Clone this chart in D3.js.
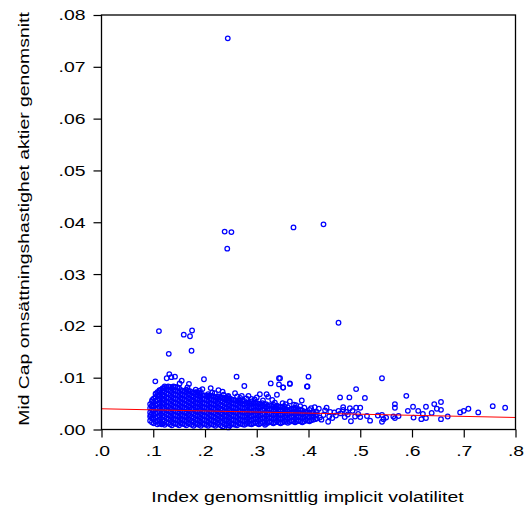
<!DOCTYPE html>
<html>
<head>
<meta charset="utf-8">
<script src="https://cdn.jsdelivr.net/npm/d3@7"></script>
<style>
  body { margin: 0; background: #fff; }
  .chart text { font-family: "Liberation Sans", Arial, sans-serif; fill: #000; }
</style>
</head>
<body>
<svg class="chart"></svg>
<script>
const width = 531, height = 515;
const margin = { top: 15, right: 15.5, bottom: 85.5, left: 101.5 };

const xTicks = [0, .1, .2, .3, .4, .5, .6, .7, .8];
const yTicks = [0, .01, .02, .03, .04, .05, .06, .07, .08];
const xLabel = "Index genomsnittlig implicit volatilitet";
const yLabel = "Mid Cap omsättningshastighet aktier genomsnitt";

// regression line (start / end)
const fitX = [0, .8];
const fitY = [.0040, .00232];

// dense cluster, read column by column: [x, [y...]]
const cluster = [
  [.094, [.0017, .0025, .0033, .0041, .0049]],
  [.0975, [.0014, .0022, .0030, .0038, .0046, .0054]],
  [.101, [.0012, .0020, .0028, .0036, .0044, .0052, .0060]],
  [.1045, [.0015, .0023, .0031, .0039, .0047, .0055, .0063, .0069]],
  [.108, [.0010, .0017, .0025, .0033, .0041, .0049, .0057, .0065, .0072]],
  [.1115, [.0012, .0019, .0027, .0035, .0043, .0051, .0059, .0067, .0074]],
  [.115, [.0013, .0021, .0029, .0037, .0045, .0053, .0061, .0069, .0077]],
  [.1185, [.0011, .0019, .0027, .0035, .0043, .0051, .0059, .0067, .0075, .0080]],
  [.122, [.0009, .0017, .0025, .0033, .0041, .0049, .0057, .0065, .0073, .0080]],
  [.1255, [.0013, .0021, .0029, .0037, .0045, .0053, .0061, .0069, .0077, .0082]],
  [.129, [.0012, .0020, .0028, .0036, .0044, .0052, .0060, .0068, .0076, .0083]],
  [.1325, [.0010, .0018, .0026, .0034, .0042, .0050, .0058, .0066, .0074, .0082]],
  [.136, [.0008, .0016, .0024, .0032, .0040, .0048, .0056, .0064, .0072, .0080]],
  [.1395, [.0012, .0020, .0028, .0036, .0044, .0052, .0060, .0068, .0076, .0082]],
  [.143, [.0011, .0019, .0027, .0035, .0043, .0051, .0059, .0067, .0075, .0082]],
  [.1465, [.0010, .0018, .0026, .0034, .0042, .0050, .0058, .0066, .0074, .0081]],
  [.150, [.0008, .0016, .0024, .0032, .0040, .0048, .0056, .0064, .0072, .0080]],
  [.1535, [.0012, .0020, .0028, .0036, .0044, .0052, .0060, .0068, .0076]],
  [.157, [.0011, .0019, .0027, .0035, .0043, .0051, .0059, .0067, .0075]],
  [.1605, [.0010, .0018, .0026, .0034, .0042, .0050, .0058, .0066, .0074]],
  [.164, [.0008, .0016, .0024, .0032, .0040, .0048, .0056, .0064, .0072, .0077]],
  [.1675, [.0012, .0020, .0028, .0036, .0044, .0052, .0060, .0068, .0075]],
  [.171, [.0011, .0019, .0027, .0035, .0043, .0051, .0059, .0067, .0074]],
  [.1745, [.0009, .0017, .0025, .0033, .0041, .0049, .0057, .0065, .0072]],
  [.178, [.0007, .0015, .0023, .0031, .0039, .0047, .0055, .0063, .0071]],
  [.1815, [.0011, .0019, .0027, .0035, .0043, .0051, .0059, .0067, .0072]],
  [.185, [.0010, .0018, .0026, .0034, .0042, .0050, .0058, .0066, .0072]],
  [.1885, [.0009, .0017, .0025, .0033, .0041, .0049, .0057, .0065, .0070]],
  [.192, [.0007, .0015, .0023, .0031, .0039, .0047, .0055, .0063, .0070]],
  [.1955, [.0011, .0019, .0027, .0035, .0043, .0051, .0059, .0066]],
  [.199, [.0010, .0018, .0026, .0034, .0042, .0050, .0058, .0066]],
  [.2025, [.0009, .0017, .0025, .0033, .0041, .0049, .0057, .0065]],
  [.206, [.0007, .0015, .0023, .0031, .0039, .0047, .0055, .0063, .0068]],
  [.2095, [.0011, .0019, .0027, .0035, .0043, .0051, .0059, .0066]],
  [.213, [.0010, .0018, .0026, .0034, .0042, .0050, .0058, .0065]],
  [.2165, [.0009, .0017, .0025, .0033, .0041, .0049, .0057, .0064]],
  [.220, [.0007, .0015, .0023, .0031, .0039, .0047, .0055, .0062]],
  [.2235, [.0011, .0019, .0027, .0035, .0043, .0051, .0059, .0063]],
  [.227, [.0010, .0018, .0026, .0034, .0042, .0050, .0058, .0064]],
  [.2305, [.0008, .0016, .0024, .0032, .0040, .0048, .0056, .0062]],
  [.234, [.0006, .0014, .0022, .0030, .0038, .0046, .0054, .0061]],
  [.2375, [.0010, .0018, .0026, .0034, .0042, .0050, .0058, .0061]],
  [.241, [.0009, .0017, .0025, .0033, .0041, .0049, .0057, .0062]],
  [.2445, [.0008, .0016, .0024, .0032, .0040, .0048, .0056, .0060]],
  [.248, [.0007, .0015, .0023, .0031, .0039, .0047, .0055, .0060]],
  [.2515, [.0011, .0019, .0027, .0035, .0043, .0051, .0058]],
  [.255, [.0010, .0018, .0026, .0034, .0042, .0050, .0057]],
  [.2585, [.0009, .0017, .0025, .0033, .0041, .0049, .0056]],
  [.262, [.0008, .0016, .0024, .0032, .0040, .0048, .0055]],
  [.2655, [.0012, .0020, .0028, .0036, .0044, .0052, .0056]],
  [.269, [.0011, .0019, .0027, .0035, .0043, .0051, .0056]],
  [.2725, [.0010, .0018, .0026, .0034, .0042, .0050, .0055]],
  [.276, [.0009, .0017, .0025, .0033, .0041, .0049, .0055]],
  [.2795, [.0011, .0019, .0027, .0035, .0043, .0051]],
  [.283, [.0012, .0020, .0028, .0036, .0044, .0052]],
  [.2865, [.0011, .0019, .0027, .0035, .0043, .0051]],
  [.290, [.0010, .0018, .0026, .0034, .0042, .0050, .0054]],
  [.2935, [.0012, .0020, .0028, .0036, .0044, .0050]],
  [.297, [.0013, .0021, .0029, .0037, .0045, .0052]],
  [.3005, [.0012, .0020, .0028, .0036, .0044, .0051]],
  [.304, [.0010, .0018, .0026, .0034, .0042, .0050]],
  [.3075, [.0012, .0020, .0028, .0036, .0044, .0049]],
  [.311, [.0014, .0022, .0030, .0038, .0046, .0051]],
  [.3145, [.0013, .0021, .0029, .0037, .0045, .0049]],
  [.318, [.0011, .0019, .0027, .0035, .0043, .0049]],
  [.3215, [.0013, .0021, .0029, .0037, .0045]],
  [.325, [.0015, .0023, .0031, .0039, .0047]],
  [.3285, [.0014, .0022, .0030, .0038, .0046]],
  [.332, [.0012, .0020, .0028, .0036, .0044, .0048]],
  [.3355, [.0014, .0022, .0030, .0038, .0044]],
  [.339, [.0016, .0024, .0032, .0040, .0046]],
  [.3425, [.0014, .0022, .0030, .0038, .0044]],
  [.346, [.0012, .0020, .0028, .0036, .0044]],
  [.3495, [.0014, .0022, .0030, .0038, .0043]],
  [.353, [.0016, .0024, .0032, .0040, .0045]],
  [.3565, [.0015, .0023, .0031, .0039]],
  [.360, [.0013, .0021, .0029, .0037, .0043]],
  [.3635, [.0015, .0023, .0031, .0038]],
  [.367, [.0017, .0025, .0033, .0040]],
  [.3705, [.0016, .0024, .0032, .0039]],
  [.374, [.0014, .0022, .0030, .0038, .0042]],
  [.3775, [.0016, .0024, .0032, .0037]],
  [.381, [.0017, .0025, .0033, .0039]],
  [.3845, [.0016, .0024, .0032, .0038]],
  [.388, [.0014, .0022, .0030, .0037]],
  [.3915, [.0016, .0024, .0032]],
  [.395, [.0018, .0026, .0034]],
  [.3985, [.0017, .0025, .0033]],
  [.402, [.0016, .0024, .0032, .0038]],
  [.4055, [.0018, .0026, .0032]],
  [.409, [.0019, .0027, .0033]],
  [.4125, [.0020, .0028]],
  [.416, [.0021, .0029]]
];

// scattered points around and outside the cluster: [x, y]
const scattered = [
  [.244, .0755], [.238, .0382], [.251, .0381], [.243, .0349], [.371, .0390], [.429, .0396],
  [.458, .0206], [.111, .0190], [.159, .0183], [.175, .0191], [.171, .0180], [.130, .0146],
  [.174, .0152],
  [.131, .0107], [.126, .0099], [.135, .0101], [.142, .0102], [.155, .0094], [.151, .0089],
  [.104, .0093], [.169, .0088], [.122, .0083], [.139, .0083], [.195, .0078], [.211, .0080],
  [.226, .0076], [.219, .0070], [.234, .0073], [.206, .0065], [.245, .0063], [.198, .0097],
  [.261, .0102], [.276, .0084], [.343, .0099], [.327, .0089], [.343, .0087], [.351, .0081],
  [.364, .0088], [.400, .0102], [.397, .0083], [.306, .0068], [.319, .0068], [.339, .0067],
  [.322, .0063], [.387, .0056], [.364, .0054], [.376, .0047], [.258, .0070], [.245, .0065],
  [.271, .0065], [.284, .0065], [.364, .0089], [.345, .0099], [.398, .0083], [.351, .0081],
  [.116, .0010], [.245, .0004], [.316, .0009],
  [.542, .0099], [.492, .0078], [.461, .0062], [.479, .0062], [.509, .0061], [.589, .0065],
  [.435, .0042], [.467, .0043], [.480, .0041], [.492, .0042], [.500, .0042], [.567, .0049],
  [.567, .0042], [.592, .0036], [.602, .0044], [.612, .0036], [.627, .0044], [.643, .0049],
  [.656, .0053], [.648, .0040], [.656, .0038], [.638, .0032], [.621, .0030], [.627, .0022],
  [.618, .0020], [.603, .0023], [.656, .0020], [.669, .0025], [.693, .0033], [.700, .0036],
  [.709, .0040], [.728, .0033], [.756, .0045], [.780, .0042], [.574, .0026], [.564, .0025],
  [.567, .0022], [.542, .0028], [.534, .0027], [.545, .0020], [.550, .0023], [.542, .0015],
  [.519, .0017], [.513, .0026], [.500, .0024], [.496, .0030], [.490, .0025], [.482, .0016],
  [.485, .0036], [.473, .0034], [.467, .0038], [.462, .0031], [.458, .0036], [.450, .0033],
  [.442, .0034], [.440, .0025], [.438, .0015], [.429, .0028], [.422, .0023], [.416, .0034],
  [.409, .0025], [.425, .0019], [.432, .0037], [.446, .0022], [.453, .0027], [.470, .0024],
  [.476, .0029], [.420, .0040], [.412, .0043], [.405, .0041], [.384, .0045], [.392, .0042],
  [.356, .0049], [.335, .0052], [.312, .0056], [.296, .0058], [.280, .0060], [.268, .0061],
  [.330, .0057], [.350, .0051], [.372, .0048], [.300, .0062], [.290, .0059], [.262, .0064],
  [.236, .0067], [.214, .0071], [.190, .0075], [.182, .0077], [.166, .0081], [.118, .0079],
  [.112, .0076], [.105, .0068], [.098, .0057], [.095, .0028], [.097, .0045]
];

const points = cluster.flatMap(([x, ys]) => ys.map(y => [x, y])).concat(scattered);

const innerW = width - margin.left - margin.right;
const innerH = height - margin.top - margin.bottom;

const scaleX = d3.scaleLinear().domain([0, .8]).range([margin.left, margin.left + innerW]);
const scaleY = d3.scaleLinear().domain([0, .08]).range([margin.top + innerH, margin.top]);

const svg = d3.select(".chart").attr("width", width).attr("height", height);

// points
svg.append("g")
  .selectAll("circle")
  .data(points)
  .join("circle")
  .attr("cx", d => scaleX(d[0]))
  .attr("cy", d => scaleY(d[1]))
  .attr("r", 2.3)
  .attr("fill", "none")
  .attr("stroke", "#0000ff")
  .attr("stroke-width", 1.25);

// fitted line
svg.append("line")
  .attr("x1", scaleX(fitX[0])).attr("y1", scaleY(fitY[0]))
  .attr("x2", scaleX(fitX[1])).attr("y2", scaleY(fitY[1]))
  .attr("stroke", "#ff0000")
  .attr("stroke-width", 1);

// frame
svg.append("rect")
  .attr("x", margin.left).attr("y", margin.top)
  .attr("width", innerW).attr("height", innerH)
  .attr("fill", "none").attr("stroke", "#000").attr("stroke-width", 1.3);

// axes
const fmt = (d, n) => d3.format(`.${n}f`)(d).replace(/^0/, "");
const xAxis = svg.append("g")
  .attr("transform", `translate(0,${margin.top + innerH})`)
  .call(d3.axisBottom(scaleX).tickValues(xTicks).tickSize(8).tickPadding(7).tickFormat(d => fmt(d, 1)));
const yAxis = svg.append("g")
  .attr("transform", `translate(${margin.left},0)`)
  .call(d3.axisLeft(scaleY).tickValues(yTicks).tickSize(8).tickPadding(8).tickFormat(d => fmt(d, 2)));

[xAxis, yAxis].forEach(ax => {
  ax.select(".domain").remove();
  ax.selectAll(".tick line").attr("stroke", "#000").attr("stroke-width", 1.2);
  ax.selectAll(".tick text")
    .attr("font-size", 15.5)
    .attr("font-family", "Liberation Sans, Arial, sans-serif");
});

// axis titles
svg.append("text")
  .attr("x", 307.5).attr("y", 502)
  .attr("text-anchor", "middle")
  .attr("font-size", 15.5)
  .text(xLabel);

svg.append("text")
  .attr("transform", "translate(29,219) rotate(-90)")
  .attr("text-anchor", "middle")
  .attr("font-size", 15.5)
  .text(yLabel);

// the original font is drawn wide: stretch all text horizontally
svg.selectAll("text").each(function() {
  const len = this.getComputedTextLength();
  d3.select(this).attr("textLength", len * 1.25).attr("lengthAdjust", "spacingAndGlyphs");
});
</script>
</body>
</html>
